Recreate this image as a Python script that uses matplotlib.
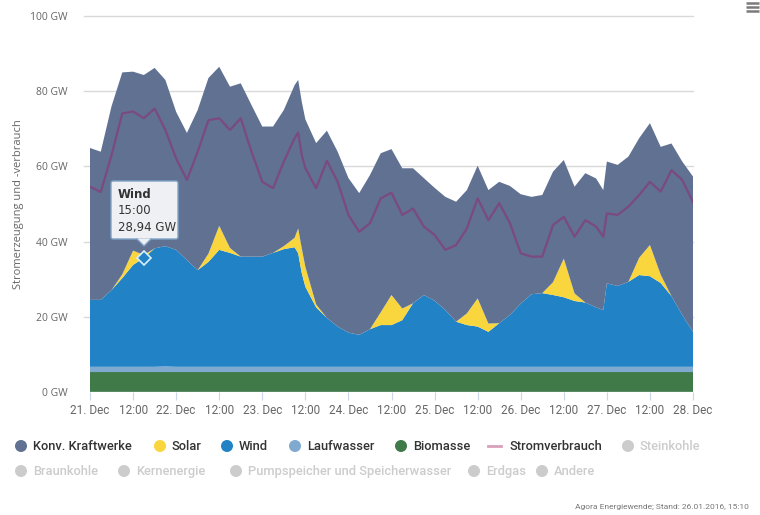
import matplotlib
matplotlib.use("Agg")
import matplotlib.pyplot as plt
from matplotlib.patches import FancyBboxPatch, Polygon, Circle

# Stunden ab 21.12. 00:00
hours = [0, 3, 6, 9, 12, 15, 18, 21, 24, 27, 30, 33, 36, 39, 42, 45, 48, 51, 54, 57,
         58, 59, 60, 63, 66, 69, 72, 75, 78, 81, 84, 87, 90, 93, 96, 99, 102, 105, 108,
         111, 114, 117, 120, 123, 126, 129, 132, 135, 138, 141, 143, 144, 147, 150, 153,
         156, 159, 162, 165, 168]

biomasse = [5.3, 5.3, 5.3, 5.3, 5.3, 5.3, 5.3, 5.3, 5.3, 5.3, 5.3, 5.3, 5.3, 5.3, 5.3,
            5.3, 5.3, 5.3, 5.3, 5.3, 5.3, 5.3, 5.3, 5.3, 5.3, 5.3, 5.3, 5.3, 5.3, 5.3,
            5.3, 5.3, 5.3, 5.3, 5.3, 5.3, 5.3, 5.3, 5.3, 5.3, 5.3, 5.3, 5.3, 5.3, 5.3,
            5.3, 5.3, 5.3, 5.3, 5.3, 5.3, 5.3, 5.3, 5.3, 5.3, 5.3, 5.3, 5.3, 5.3, 5.3]

laufwasser = [1.4, 1.4, 1.4, 1.4, 1.4, 1.4, 1.4, 1.5, 1.4, 1.4, 1.4, 1.4, 1.4, 1.4, 1.4,
              1.4, 1.4, 1.4, 1.4, 1.4, 1.4, 1.4, 1.4, 1.4, 1.4, 1.4, 1.4, 1.4, 1.4, 1.4,
              1.4, 1.4, 1.4, 1.4, 1.4, 1.4, 1.4, 1.4, 1.4, 1.4, 1.4, 1.4, 1.4, 1.4, 1.4,
              1.4, 1.4, 1.4, 1.4, 1.4, 1.4, 1.4, 1.4, 1.4, 1.4, 1.4, 1.4, 1.4, 1.4, 1.4]

wind = [17.8, 17.8, 20.4, 23.6, 27.1, 28.94, 31.5, 32.0, 31.1, 28.4, 25.7, 27.9, 31.1,
        30.3, 29.3, 29.3, 29.3, 30.3, 31.3, 31.8, 30.2, 24.9, 21.3, 15.8, 13.0, 10.7,
        9.1, 8.5, 10.0, 11.1, 11.1, 12.4, 16.9, 19.1, 17.6, 15.1, 12.0, 11.1, 10.7,
        9.3, 11.6, 13.8, 16.8, 19.3, 19.6, 19.1, 18.5, 17.5, 17.1, 15.8, 15.1, 22.2,
        21.5, 22.6, 24.4, 24.1, 22.3, 18.8, 13.8, 9.3]

solar = [0, 0, 0, 1.0, 3.8, 0.8, 0, 0, 0, 0, 0, 2.2, 6.4, 1.3, 0, 0, 0, 0, 0.8, 2.5,
         6.6, 6.6, 5.3, 0.8, 0, 0, 0, 0, 0, 3.4, 8.0, 3.1, 0, 0, 0, 0, 0, 3.1, 7.5,
         2.2, 0, 0, 0, 0, 0, 3.4, 10.3, 2.0, 0, 0, 0, 0, 0, 0, 4.6, 8.3, 2.2, 0, 0, 0]

# Gesamterzeugung (Oberkante der Fläche)
gesamt = [64.9, 63.9, 76.0, 85.0, 85.2, 84.3, 86.2, 83.0, 74.5, 68.9, 75.0, 83.5, 86.5,
          81.2, 82.1, 76.3, 70.6, 70.6, 75.0, 81.6, 83.0, 77.2, 72.5, 66.2, 69.5, 63.9,
          56.9, 52.9, 57.7, 63.5, 64.6, 59.5, 59.5, 56.9, 54.3, 51.9, 50.6, 53.7, 60.2,
          53.7, 55.9, 54.8, 52.6, 51.9, 52.4, 58.6, 61.7, 54.6, 58.2, 56.8, 53.7, 61.3,
          60.4, 62.6, 67.5, 71.5, 65.2, 66.1, 61.3, 57.3]

stromverbrauch = [54.6, 53.2, 63.0, 74.1, 74.6, 72.8, 75.4, 69.7, 62.1, 56.4, 63.9, 72.3,
                  72.8, 69.7, 72.8, 63.9, 55.9, 54.2, 61.3, 67.5, 69.0, 63.0, 59.5, 54.2,
                  61.5, 55.9, 47.1, 42.6, 44.9, 51.5, 53.0, 47.1, 48.8, 44.0, 41.8, 37.8,
                  39.1, 43.5, 51.5, 45.7, 50.2, 44.9, 36.9, 36.0, 36.0, 44.4, 46.6, 41.3,
                  45.7, 44.0, 41.3, 47.5, 47.1, 49.3, 52.4, 55.9, 53.3, 59.0, 56.4, 50.5]

tick_hours = [0, 12, 24, 36, 48, 60, 72, 84, 96, 108, 120, 132, 144, 156, 168]
tick_labels = ["21. Dec", "12:00", "22. Dec", "12:00", "23. Dec", "12:00", "24. Dec", "12:00",
               "25. Dec", "12:00", "26. Dec", "12:00", "27. Dec", "12:00", "28. Dec"]
y_ticks = [0, 20, 40, 60, 80, 100]

konv = [g - b - l - w - s for g, b, l, w, s in zip(gesamt, biomasse, laufwasser, wind, solar)]

C_KONV = "#607191"
C_SOLAR = "#f9d53e"
C_WIND = "#2183c6"
C_LAUF = "#7fa9cf"
C_BIO = "#3f7a48"
C_STROM = "#7b4a80"
C_TEXT = "#666666"
C_GRID = "#d9d9d9"
C_OFF = "#cccccc"

FONT = "Roboto"

fig = plt.figure(figsize=(7.6, 5.15), dpi=100, facecolor="white")
W, H = 760, 515
ax = fig.add_axes([90 / W, 1 - 392 / H, (693 - 90) / W, (392 - 16) / H])

ax.stackplot(hours, biomasse, laufwasser, wind, solar, konv,
             colors=[C_BIO, C_LAUF, C_WIND, C_SOLAR, C_KONV], linewidth=0, zorder=2)
ax.plot(hours, stromverbrauch, color=C_STROM, linewidth=1.6, zorder=3)

ax.set_xlim(0, 168)
ax.set_ylim(0, 100)
for y in y_ticks[1:]:
    ax.axhline(y, xmin=-0.01, xmax=1.0, color=C_GRID, linewidth=1, zorder=1, clip_on=False)
ax.axhline(0, color="#ccd6eb", linewidth=1, zorder=4)

for s in ax.spines.values():
    s.set_visible(False)
ax.set_facecolor("white")

ax.set_xticks(tick_hours)
ax.set_xticklabels(tick_labels, family=FONT, fontsize=8.5, color=C_TEXT)
ax.tick_params(axis="x", length=6, color="#ccd6eb", pad=3)
ax.set_yticks(y_ticks)
ax.set_yticklabels([f"{v} GW" for v in y_ticks], fontsize=7.5, color=C_TEXT, family="Open Sans")
ax.tick_params(axis="y", length=0, pad=16)
ax.set_ylabel("Stromerzeugung und -verbrauch", fontsize=8, color=C_TEXT, family="Open Sans",
              labelpad=4.5)

# Tooltip-Marker (Wind 15:00)
i = hours.index(15)
wind_top = biomasse[i] + laufwasser[i] + wind[i]
ax.plot([hours[i]], [wind_top], marker="D", markersize=7, markerfacecolor=C_WIND,
        markeredgecolor="#d8f0ff", markeredgewidth=1.2, zorder=6)

# Overlay in Pixelkoordinaten fuer Legende, Tooltip, Quelle
ov = fig.add_axes([0, 0, 1, 1], facecolor="none")
ov.set_xlim(0, W)
ov.set_ylim(H, 0)
ov.axis("off")

tip = FancyBboxPatch((111, 181), 67, 58, boxstyle="round,pad=0,rounding_size=2",
                     facecolor="#eef0f3", edgecolor="#7ea3c7", linewidth=1, zorder=7)
ov.add_patch(tip)
ov.add_patch(Polygon([[137, 238.5], [151, 238.5], [144, 246]], closed=True,
                     facecolor="#eef0f3", edgecolor="none", zorder=8))
ov.plot([137, 144, 151], [239, 246, 239], color="#7ea3c7", linewidth=1, zorder=8)
ov.text(118, 195, "Wind", fontsize=8.5, fontweight="bold", color="#333333", va="center", zorder=9)
ov.text(118, 211, "15:00", fontsize=8.5, color="#333333", va="center", zorder=9)
ov.text(118, 227, f"{wind[i]:.2f} GW".replace(".", ","), fontsize=8.5, color="#333333",
        va="center", zorder=9)

# Legende
legend_row1 = [("Konv. Kraftwerke", C_KONV, 21), ("Solar", C_SOLAR, 160), ("Wind", C_WIND, 227),
               ("Laufwasser", C_LAUF, 295), ("Biomasse", C_BIO, 401)]
for label, col, x in legend_row1:
    ov.add_patch(Circle((x, 446), 6, facecolor=col, edgecolor="none"))
    ov.text(x + 12, 446.5, label, family=FONT, fontsize=9.3, fontweight="medium",
            color="#333333", va="center")
ov.plot([488, 501], [446, 446], color="#d9a0bd", linewidth=2)
ov.text(509, 446.5, "Stromverbrauch", family=FONT, fontsize=9.3, fontweight="medium",
        color="#333333", va="center")

legend_off = [("Steinkohle", 628, 446), ("Braunkohle", 21, 471), ("Kernenergie", 124, 471),
              ("Pumpspeicher und Speicherwasser", 236, 471), ("Erdgas", 474, 471),
              ("Andere", 542, 471)]
for label, x, y in legend_off:
    ov.add_patch(Circle((x, y), 6, facecolor=C_OFF, edgecolor="none"))
    ov.text(x + 12, y + 0.5, label, family=FONT, fontsize=9.3, fontweight="medium",
            color=C_OFF, va="center")

ov.text(575, 507, "Agora Energiewende; Stand: 26.01.2016, 15:10", fontsize=6,
        color="#777777", va="center", family=FONT)

# Menue-Symbol
for y in (3, 7, 11):
    ov.plot([746, 759], [y, y], color="#7a7a7a", linewidth=1.8, solid_capstyle="butt")

fig.savefig("out.png", dpi=100, facecolor="white")
